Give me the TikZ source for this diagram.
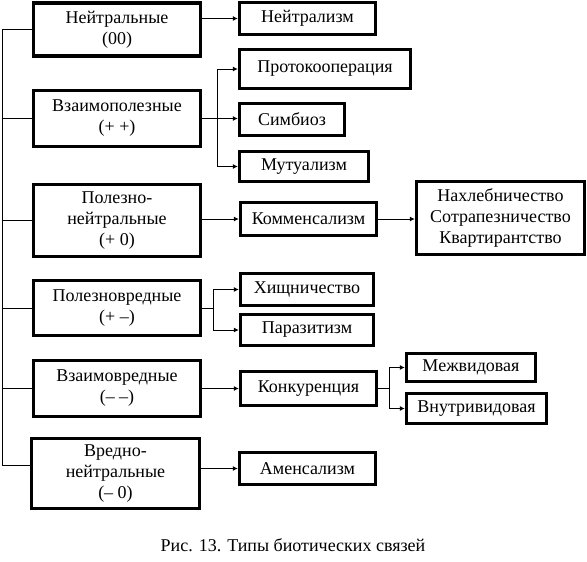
\documentclass[tikz,border=0pt]{standalone}
\usepackage{fontspec}
\setmainfont{Liberation Serif}
\usetikzlibrary{arrows.meta}
\begin{document}
\begin{tikzpicture}[x=1pt,y=-1pt,
  box/.style={draw, line width=3.3pt, inner sep=0pt, align=center,
    font=\fontsize{18}{21}\selectfont},
  conn/.style={line width=1pt},
  arr/.style={line width=1pt, -{Latex[length=5pt,width=5pt]}}]
\useasboundingbox (0,0) rectangle (587,562);
% left column
\node[box, minimum width=167pt, minimum height=53pt] (L1) at (117,29.5) {Нейтральные\\(00)};
\node[box, minimum width=167pt, minimum height=56pt] (L2) at (117,118.5) {Взаимополезные\\(+ +)};
\node[box, minimum width=167pt, minimum height=72pt] (L3) at (117,220.5) {Полезно-\\нейтральные\\(+ 0)};
\node[box, minimum width=167pt, minimum height=55pt] (L4) at (117,308) {Полезновредные\\(+ –)};
\node[box, minimum width=167pt, minimum height=56pt] (L5) at (117,388.5) {Взаимовредные\\(– –)};
\node[box, minimum width=168pt, minimum height=70pt] (L6) at (115.5,473.5) {Вредно-\\нейтральные\\(– 0)};
% right column
\node[box, minimum width=136pt, minimum height=32pt] (N) at (307.5,18.5) {Нейтрализм};
\node[box, minimum width=171pt, minimum height=39pt] (P) at (325,69) {Протокооперация};
\node[box, minimum width=105pt, minimum height=32pt] (S) at (292,119.5) {Симбиоз};
\node[box, minimum width=129pt, minimum height=30pt] (M) at (304,166.5) {Мутуализм};
\node[box, minimum width=136pt, minimum height=33pt] (K) at (308.5,219) {Комменсализм};
\node[box, minimum width=168pt, minimum height=73pt] (Nah) at (500.5,218) {Нахлебничество\\Сотрапезничество\\Квартирантство};
\node[box, minimum width=133pt, minimum height=32pt] (H) at (307,289.5) {Хищничество};
\node[box, minimum width=133pt, minimum height=31pt] (Pa) at (307,330) {Паразитизм};
\node[box, minimum width=136pt, minimum height=34pt] (Ko) at (308.5,388.5) {Конкуренция};
\node[box, minimum width=129pt, minimum height=28pt] (Me) at (471,367.5) {Межвидовая};
\node[box, minimum width=140pt, minimum height=30pt] (Vn) at (476.5,408.5) {Внутривидовая};
\node[box, minimum width=136pt, minimum height=32pt] (A) at (307.5,468.5) {Аменсализм};
% caption
\node[font=\fontsize{18}{21}\selectfont, inner sep=0pt] (cap) at (293,545) {Рис. 13. Типы биотических связей};
% spine
\coordinate (sp) at (2.5,0);
\draw[conn] (L1.west) -- (L1.west -| sp) -- ([yshift=8pt]L6.west -| sp) -- ([yshift=8pt]L6.west);
\draw[conn] (L2.west) -- (L2.west -| sp);
\draw[conn] (L3.west) -- (L3.west -| sp);
\draw[conn] (L4.west) -- (L4.west -| sp);
\draw[conn] (L5.west) -- (L5.west -| sp);
% arrows
\draw[arr] (L1.east |- N) -- (N.west);
\coordinate (b2) at (217,0);
\draw[conn] (L2.east) -- (L2.east -| b2);
\draw[arr] (L2.east -| b2) |- (P.west);
\draw[arr] (L2.east -| b2) |- (M.west);
\draw[arr] (L2.east) -- (L2.east -| S.west);
\draw[arr] (L3.east |- K) -- (K.west);
\draw[arr] (K.east) -- (K.east -| Nah.west);
\coordinate (b4) at (213,0);
\draw[conn] (L4.east) -- (L4.east -| b4);
\draw[arr] (L4.east -| b4) |- (H.west);
\draw[arr] (L4.east -| b4) |- (Pa.west);
\draw[arr] (L5.east) -- (L5.east -| Ko.west);
\coordinate (b5) at (389,0);
\draw[conn] (Ko.east) -- (Ko.east -| b5);
\draw[arr] (Ko.east -| b5) |- (Me.west);
\draw[arr] (Ko.east -| b5) |- (Vn.west);
\draw[arr] (L6.east |- A) -- (A.west);
\end{tikzpicture}
\end{document}
